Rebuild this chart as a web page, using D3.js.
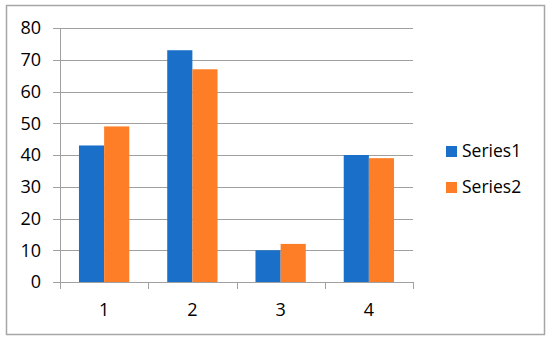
<!DOCTYPE html>
<html>
<head>
<meta charset="utf-8">
<script src="https://cdn.jsdelivr.net/npm/d3@7"></script>
<style>
body{margin:0;background:#fff}
text{font-family:"Open Sans",sans-serif;fill:#000}
</style>
</head>
<body>
<div class="Chart"></div>
<script>
const categories=['1','2','3','4']
const seriesNames=['Series1','Series2']
const series1=[43,73,10,40]
const series2=[49,67,12,39]
const yTicks=[0,10,20,30,40,50,60,70,80]
const colors=['#1a70c8','#fd7e27']

const W=550,H=340
const plot=({left:60,right:413,top:28,bottom:282})

let svg=d3.select('.Chart').append('svg')
	.attr('width',W)
	.attr('height',H)

// outer frame
svg.append('rect')
	.attr('x',6.5).attr('y',5.5)
	.attr('width',538).attr('height',329)
	.attr('fill','#fff')
	.attr('stroke','#a6a6a6')
	.attr('stroke-width',1.5)

let xScale=d3.scaleBand()
	.domain(categories)
	.range([plot.left,plot.right])
	.paddingInner(0.43)
	.paddingOuter(0.215)

let sub=d3.scaleBand()
	.domain(seriesNames)
	.range([0,xScale.bandwidth()])

let yScale=d3.scaleLinear()
	.domain([0,80])
	.range([plot.bottom,plot.top])

// gridlines
svg.append('g')
	.selectAll('line')
	.data(yTicks)
	.enter().append('line')
	.attr('x1',plot.left-7)
	.attr('x2',plot.right)
	.attr('y1',d=>Math.round(yScale(d))+0.5)
	.attr('y2',d=>Math.round(yScale(d))+0.5)
	.attr('stroke','#a0a0a0')
	.attr('stroke-width',1)

// y labels
svg.append('g')
	.selectAll('text')
	.data(yTicks)
	.enter().append('text')
	.attr('x',41)
	.attr('y',d=>yScale(d))
	.attr('dy','0.35em')
	.attr('text-anchor','end')
	.style('font-size','18px')
	.text(d=>d)

// y axis line
svg.append('line')
	.attr('x1',plot.left+0.5).attr('x2',plot.left+0.5)
	.attr('y1',plot.top).attr('y2',plot.bottom)
	.attr('stroke','#a0a0a0')

const data=categories.map((c,i)=>({cat:c,values:[series1[i],series2[i]]}))

let groups=svg.append('g')
	.selectAll('g')
	.data(data)
	.enter().append('g')
	.attr('transform',d=>'translate('+xScale(d.cat)+',0)')

groups.selectAll('rect')
	.data(d=>d.values.map((v,j)=>({name:seriesNames[j],value:v,color:colors[j]})))
	.enter().append('rect')
	.attr('x',d=>sub(d.name))
	.attr('y',d=>yScale(d.value))
	.attr('width',sub.bandwidth())
	.attr('height',d=>yScale(0)-yScale(d.value))
	.attr('fill',d=>d.color)

// x axis ticks at category boundaries
const step=(plot.right-plot.left)/categories.length
svg.append('g')
	.selectAll('line')
	.data(d3.range(categories.length+1))
	.enter().append('line')
	.attr('x1',i=>Math.round(plot.left+i*step)+0.5)
	.attr('x2',i=>Math.round(plot.left+i*step)+0.5)
	.attr('y1',plot.bottom)
	.attr('y2',plot.bottom+7)
	.attr('stroke','#a0a0a0')

svg.append('line')
	.attr('x1',plot.left).attr('x2',plot.right)
	.attr('y1',plot.bottom+0.5).attr('y2',plot.bottom+0.5)
	.attr('stroke','#a0a0a0')

svg.append('g')
	.selectAll('text')
	.data(categories)
	.enter().append('text')
	.attr('x',d=>xScale(d)+xScale.bandwidth()/2)
	.attr('y',316)
	.attr('text-anchor','middle')
	.style('font-size','18px')
	.text(d=>d)

// legend
let legend=svg.append('g')
	.selectAll('g')
	.data(seriesNames)
	.enter().append('g')
	.attr('transform',(d,i)=>'translate(446,'+(146+i*36)+')')

legend.append('rect')
	.attr('width',11).attr('height',11)
	.attr('fill',(d,i)=>colors[i])

legend.append('text')
	.attr('x',16)
	.attr('y',11)
	.style('font-size','17.5px')
	.text(d=>d)
</script>
</body>
</html>
